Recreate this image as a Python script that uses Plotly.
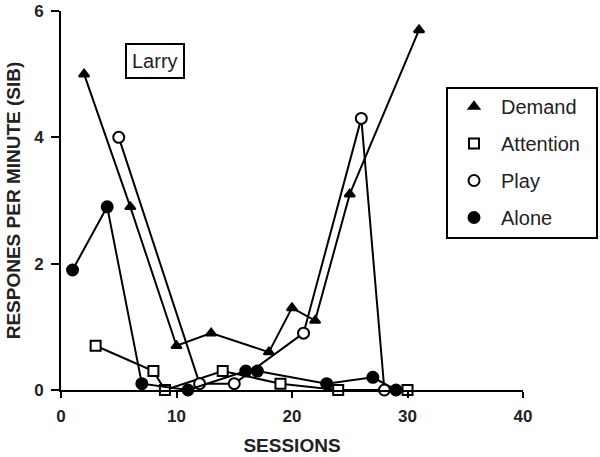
import plotly.graph_objects as go

demand_x = [2, 6, 10, 13, 18, 20, 22, 25, 31]
demand_y = [5.0, 2.9, 0.7, 0.9, 0.6, 1.3, 1.1, 3.1, 5.7]

attention_x = [3, 8, 9, 14, 19, 24, 30]
attention_y = [0.7, 0.3, 0.0, 0.3, 0.1, 0.0, 0.0]

play_x = [5, 12, 15, 21, 26, 28]
play_y = [4.0, 0.1, 0.1, 0.9, 4.3, 0.0]

alone_x = [1, 4, 7, 11, 16, 17, 23, 27, 29]
alone_y = [1.9, 2.9, 0.1, 0.0, 0.3, 0.3, 0.1, 0.2, 0.0]

x_ticks = [0, 10, 20, 30, 40]
y_ticks = [0, 2, 4, 6]

series = [
    ("Demand", demand_x, demand_y, "triangle-up", "black", 9),
    ("Attention", attention_x, attention_y, "square", "white", 10),
    ("Play", play_x, play_y, "circle", "white", 11),
    ("Alone", alone_x, alone_y, "circle", "black", 11),
]

fig = go.Figure()
for name, xs, ys, sym, fill, size in series:
    fig.add_trace(go.Scatter(
        x=xs, y=ys, mode="lines+markers", name=name, showlegend=False,
        line=dict(color="black", width=2),
        marker=dict(symbol=sym, size=size, color=fill,
                    line=dict(color="black", width=2)),
        cliponaxis=False,
    ))
for i, (name, xs, ys, sym, fill, size) in enumerate(series):
    fig.add_trace(go.Scatter(
        x=[None], y=[None], mode="markers", name=name, legendgroup=name,
        marker=dict(symbol=sym, size=size, color=fill,
                    line=dict(color="black", width=2)),
    ))

fig.add_annotation(
    x=8.15, y=5.21, text="Larry", showarrow=False,
    font=dict(family="Liberation Sans, Arial", size=20, color="#222"),
    bordercolor="black", borderwidth=2, borderpad=5, bgcolor="white",
)

# legend frame
PW, PH = 462, 379
fig.add_shape(
    type="rect", xref="paper", yref="paper",
    x0=(447 - 61) / PW, x1=(597 - 61) / PW,
    y0=(390 - 238) / PH, y1=(390 - 88) / PH,
    line=dict(color="black", width=2), fillcolor="rgba(0,0,0,0)", layer="above",
)

axis_font = dict(family="Liberation Sans, Arial", size=17, color="#222")
fig.update_layout(
    width=600, height=457,
    margin=dict(l=61, r=77, t=11, b=67),
    paper_bgcolor="white", plot_bgcolor="white",
    font=dict(family="Liberation Sans, Arial", color="#222"),
    legend=dict(
        x=(447 - 61) / PW, y=(390 - 87) / PH, xanchor="left", yanchor="top",
        borderwidth=0, bgcolor="rgba(0,0,0,0)",
        font=dict(family="Liberation Sans, Arial", size=20, color="#222"),
        traceorder="grouped", tracegroupgap=8, itemwidth=44,
    ),
    xaxis=dict(
        range=[0, 40], tickvals=x_ticks, ticktext=[f"<b>{v}</b>" for v in x_ticks],
        showgrid=False, zeroline=False, showline=True, linecolor="black", linewidth=2,
        ticks="outside", ticklen=6, tickwidth=2, tickcolor="black",
        tickfont=axis_font, automargin=False, ticklabelstandoff=4,
        title=dict(text="<b>SESSIONS</b>", font=dict(family="Liberation Sans, Arial", size=19, color="#222"), standoff=13),
    ),
    yaxis=dict(
        range=[0, 6], tickvals=y_ticks, ticktext=[f"<b>{v}</b>" for v in y_ticks],
        showgrid=False, zeroline=False, showline=True, linecolor="black", linewidth=2,
        ticks="outside", ticklen=8, tickwidth=2, tickcolor="black",
        tickfont=axis_font, automargin=False, ticklabelstandoff=4,
        title=dict(text="<b>RESPONES PER MINUTE (SIB)</b>", font=dict(family="Liberation Sans, Arial", size=19, color="#222"), standoff=8),
    ),
)

fig.write_html(
    "out.html",
    config={"displayModeBar": False},
    post_script="document.body.style.margin='0';document.body.style.overflow='hidden';",
)
